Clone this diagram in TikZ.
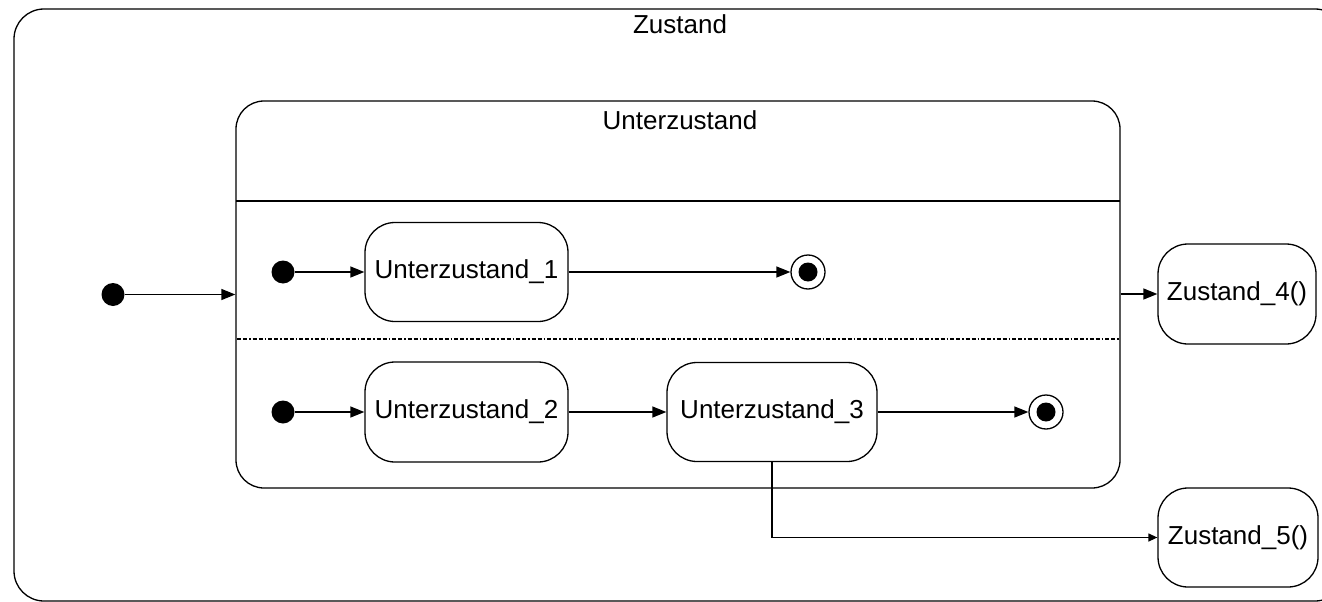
\documentclass[tikz,border=0pt]{standalone}
\usepackage{fontspec}
\setmainfont{Liberation Sans}
\usetikzlibrary{arrows.meta}

\begin{document}
\begin{tikzpicture}[x=1pt, y=-1pt, line width=1.3pt,
  font=\fontsize{26}{30}\selectfont,
  state/.style={draw, rounded corners=30pt, inner sep=0pt},
  initdot/.style={circle, fill, inner sep=0pt, minimum size=23pt},
  finalring/.style={circle, draw, inner sep=0pt, minimum size=34pt},
  finaldot/.style={circle, fill, inner sep=0pt, minimum size=19pt},
  arr/.style={-{Triangle[length=14pt, width=11pt]}},
  label/.style={inner sep=0pt, anchor=center}]

  \useasboundingbox (0,0) rectangle (1322,602);
  \clip (0,0) rectangle (1322,602);
  \fill[white] (0,0) rectangle (1322,602);

  % outer composite state
  \node[draw, rounded corners=30pt, minimum width=1331pt, minimum height=592pt, inner sep=0pt]
    (outer) at (679.5,305) {};
  \node[label] (outertitle) at (680,24) {Zustand};

  % inner composite state with two concurrent regions
  \node[draw, rounded corners=28pt, minimum width=884pt, minimum height=387pt, inner sep=0pt]
    (sub) at (678,294.5) {};
  \node[label] (subtitle) at (680,120) {Unterzustand};
  \draw (236,201) -- (1120,201);
  \draw[line width=1.2pt, dash pattern=on 4pt off 2pt on 4pt off 2pt on 1.5pt off 2pt]
    (237,339) -- (1119,339);

  % initial pseudo state of the outer state
  \node[initdot] (i0) at (113,294.5) {};

  % region 1
  \node[initdot] (i1) at (283,272) {};
  \node[state, minimum width=203pt, minimum height=99pt] (u1) at (466.5,272) {Unterzustand\_1};
  \node[finalring] (f1) at (808,272) {};
  \node[finaldot] at (f1) {};

  % region 2
  \node[initdot] (i2) at (283,412) {};
  \node[state, minimum width=203pt, minimum height=100pt] (u2) at (466.5,412) {Unterzustand\_2};
  \node[state, minimum width=210pt, minimum height=99pt] (u3) at (772,412) {Unterzustand\_3};
  \node[finalring] (f2) at (1046,412) {};
  \node[finaldot] at (f2) {};

  % states outside the composite
  \node[state, minimum width=158pt, minimum height=100pt] (z4) at (1237,294) {Zustand\_4()};
  \node[state, minimum width=160pt, minimum height=99pt] (z5) at (1238,537.5) {Zustand\_5()};

  % transitions
  \draw[arr] (i0) -- (sub);
  \draw[arr] (i1) -- (u1);
  \draw[arr] (u1) -- (f1);
  \draw[arr] (i2) -- (u2);
  \draw[arr] (u2) -- (u3);
  \draw[arr] (u3) -- (f2);
  \draw[arr] (z4.west -| sub.east) -- (z4.west);
  \draw[-{Triangle[length=9pt, width=8pt]}] (u3.south) |- (z5.west);
\end{tikzpicture}
\end{document}
